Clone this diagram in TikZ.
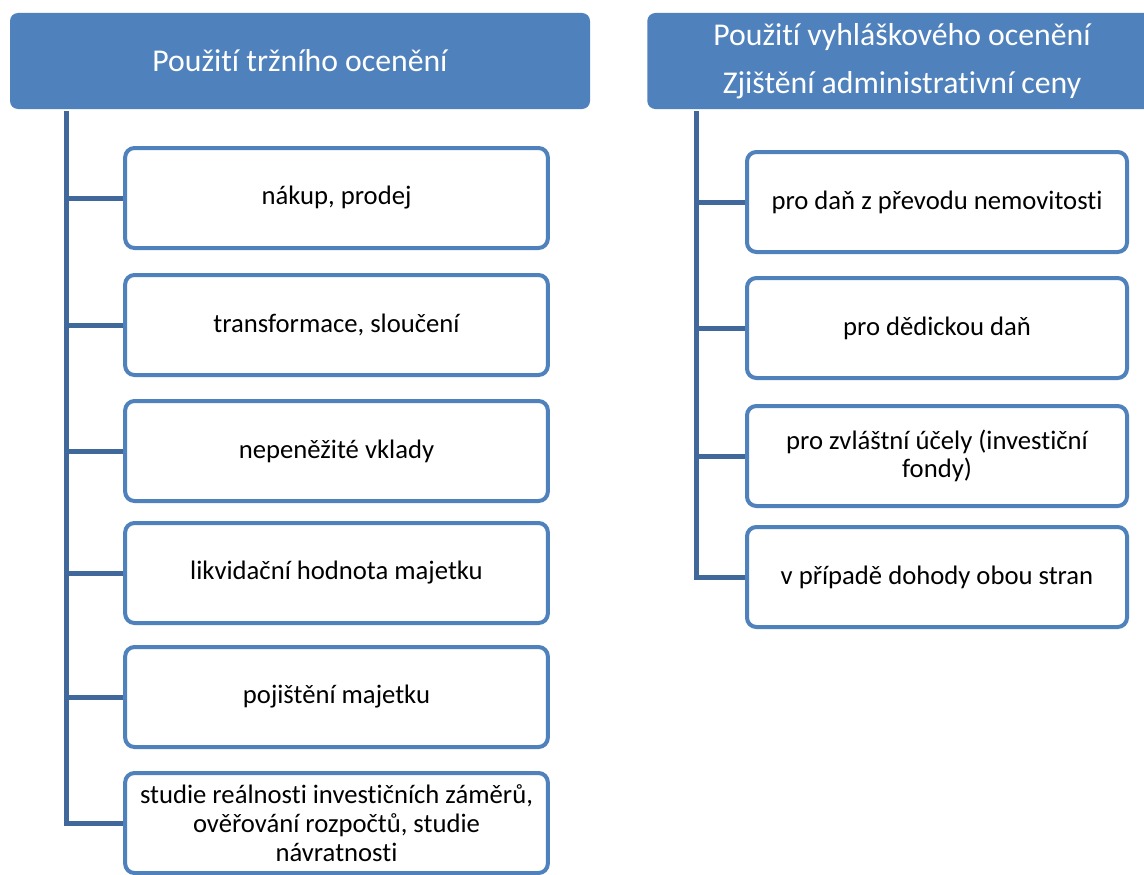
\documentclass[tikz,border=0pt]{standalone}
\usepackage{fontspec}
\setmainfont{Carlito}[Ligatures={NoCommon}]
\usepackage{xcolor}
\usepackage{tikz}
\usetikzlibrary{positioning, calc}

\definecolor{hdrblue}{HTML}{4F81BD}
\definecolor{linkblue}{HTML}{41689A}

\begin{document}
\begin{tikzpicture}[
    x=0.75pt,y=-0.75pt,
    header/.style={
        fill=hdrblue, rounded corners=6pt,
        minimum height=72pt,
        text=white, align=center,
        font=\fontsize{23.8}{36}\selectfont,
        inner sep=0pt
    },
    item/.style={
        draw=hdrblue, line width=3pt, fill=white,
        rounded corners=7pt,
        minimum height=75pt,
        align=center,
        font=\fontsize{20}{21.5}\selectfont,
        inner sep=0pt
    },
    lbox/.style={item, minimum width=317pt},
    rbox/.style={item, minimum width=285pt},
    conn/.style={draw=linkblue, line width=3.75pt}
]
\path[use as bounding box, clip] (0,0) rectangle (1144,874);

% --- Headers ---
\node[header, minimum width=435pt] (lhead) at (300,61)
{Použití tržního ocenění};

\node[header, minimum width=382pt] (rhead) at (902,61)
{Použití vyhláškového ocenění\\Zjištění administrativní ceny};

% --- Left column ---
\node[lbox] (l1) at (336.5,198) {nákup, prodej};
\node[lbox] (l2) at (336.5,325) {transformace, sloučení};
\node[lbox] (l3) at (336.5,451) {nepeněžité vklady};
\node[lbox] (l4) at (336.5,573) {likvidační hodnota majetku};
\node[lbox] (l5) at (336.5,697) {pojištění majetku};
\node[lbox] (l6) at (336.5,823)
{studie reálnosti investičních záměrů,\\ověřování rozpočtů, studie\\návratnosti};

% --- Right column ---
\node[rbox] (r1) at (937,202) {pro daň z převodu nemovitosti};
\node[rbox] (r2) at (937,328) {pro dědickou daň};
\node[rbox] (r3) at (937,456) {pro zvláštní účely (investiční\\fondy)};
\node[rbox] (r4) at (937,577) {v případě dohody obou stran};

% --- Left tree lines ---
\coordinate (ltop) at (66,111);
\draw[conn] (ltop) |- (l6.west);
\draw[conn] (l1.west -| ltop) -- (l1.west);
\draw[conn] (l2.west -| ltop) -- (l2.west);
\draw[conn] (l3.west -| ltop) -- (l3.west);
\draw[conn] (l4.west -| ltop) -- (l4.west);
\draw[conn] (l5.west -| ltop) -- (l5.west);

% --- Right tree lines ---
\coordinate (rtop) at (696,111);
\draw[conn] (rtop) |- (r4.west);
\draw[conn] (r1.west -| rtop) -- (r1.west);
\draw[conn] (r2.west -| rtop) -- (r2.west);
\draw[conn] (r3.west -| rtop) -- (r3.west);

\end{tikzpicture}
\end{document}
